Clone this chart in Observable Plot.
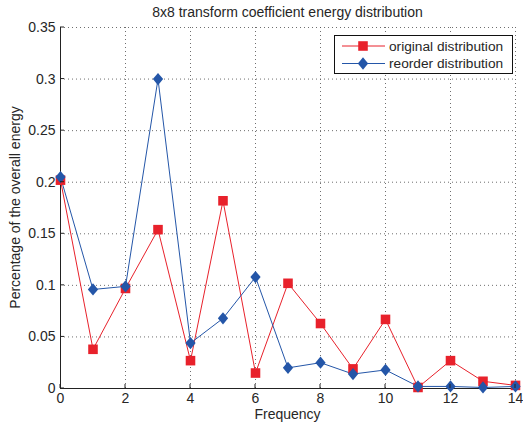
<!DOCTYPE html>
<html>
<head>
<meta charset="utf-8">
<script src="https://cdn.jsdelivr.net/npm/d3@7"></script>
<script src="https://cdn.jsdelivr.net/npm/@observablehq/plot@0.6"></script>
<style>
  body { margin: 0; background: #fff; }
  svg { display: block; font-family: "Liberation Sans", Arial, Helvetica, sans-serif; }
</style>
</head>
<body>
<div id="chart"></div>
<script>
// Frequency index of the 8x8 transform coefficients (zig-zag groups)
const frequency = [0, 1, 2, 3, 4, 5, 6, 7, 8, 9, 10, 11, 12, 13, 14];

// Share of total energy per frequency
const original = [0.202, 0.038, 0.097, 0.154, 0.027, 0.182, 0.015, 0.102, 0.063, 0.019, 0.067, 0.001, 0.027, 0.007, 0.003];
const reorder  = [0.205, 0.096, 0.099, 0.300, 0.044, 0.068, 0.108, 0.020, 0.025, 0.014, 0.018, 0.002, 0.002, 0.001, 0.002];

const xTicks = [0, 2, 4, 6, 8, 10, 12, 14];
const xTickLabels = ["0", "2", "4", "6", "8", "10", "12", "14"];
const yTicks = [0, 0.05, 0.1, 0.15, 0.2, 0.25, 0.3, 0.35];
const yTickLabels = ["0", "0.05", "0.1", "0.15", "0.2", "0.25", "0.3", "0.35"];

const seriesNames = ["original distribution", "reorder distribution"];
const seriesColors = ["#e8212b", "#2456a8"];

const titleText = "8x8 transform coefficient energy distribution";
const xLabel = "Frequency";
const yLabel = "Percentage of the overall energy";

const textColor = "#262626";
const fontSize = 14;

// Slightly tall diamond marker
const diamond = {
  draw(ctx, size) {
    const h = Math.sqrt(size) * 0.64;
    const w = h * 0.84;
    ctx.moveTo(0, -h);
    ctx.lineTo(w, 0);
    ctx.lineTo(0, h);
    ctx.lineTo(-w, 0);
    ctx.closePath();
  }
};
const square = d3.symbolSquare;
const markerR = 5.4;

const originalRows = frequency.map((f, i) => ({f, v: original[i]}));
const reorderRows = frequency.map((f, i) => ({f, v: reorder[i]}));

// Title, axis labels, inward ticks and legend drawn in pixel space
function annotations(index, scales, values, dimensions) {
  const {width, height, marginLeft, marginRight, marginTop, marginBottom} = dimensions;
  const left = marginLeft, right = width - marginRight;
  const top = marginTop, bottom = height - marginBottom;
  const g = d3.create("svg:g")
    .attr("font-family", '"Liberation Sans", Arial, Helvetica, sans-serif')
    .attr("text-anchor", "start")
    .attr("fill", textColor);

  // inward tick marks
  for (const t of xTicks) {
    const x = scales.x(t);
    g.append("line").attr("x1", x).attr("x2", x).attr("y1", bottom).attr("y2", bottom - 4)
      .attr("stroke", "#222").attr("stroke-width", 1);
  }
  for (const t of yTicks) {
    const y = scales.y(t);
    g.append("line").attr("x1", left).attr("x2", left + 4).attr("y1", y).attr("y2", y)
      .attr("stroke", "#222").attr("stroke-width", 1);
  }

  g.append("text")
    .attr("x", (left + right) / 2).attr("y", 17)
    .attr("text-anchor", "middle").attr("font-size", 14)
    .text(titleText);

  g.append("text")
    .attr("x", (left + right) / 2).attr("y", height - 7)
    .attr("text-anchor", "middle").attr("font-size", fontSize)
    .text(xLabel);

  g.append("text")
    .attr("transform", `translate(20,${(top + bottom) / 2}) rotate(-90)`)
    .attr("text-anchor", "middle").attr("font-size", fontSize)
    .text(yLabel);

  // legend
  const lx = 334, ly = 35, lw = 178, lh = 38;
  g.append("rect")
    .attr("x", lx + 0.5).attr("y", ly + 0.5).attr("width", lw).attr("height", lh)
    .attr("fill", "#fff").attr("stroke", "#111").attr("stroke-width", 1);
  const symbols = [square, diamond];
  seriesNames.forEach((name, i) => {
    const y = ly + 11 + i * 17.5;
    g.append("line").attr("x1", lx + 8).attr("x2", lx + 51).attr("y1", y).attr("y2", y)
      .attr("stroke", seriesColors[i]).attr("stroke-width", 1);
    g.append("path")
      .attr("transform", `translate(${lx + 29},${y})`)
      .attr("d", d3.symbol(symbols[i], markerR * markerR * Math.PI)())
      .attr("fill", seriesColors[i]);
    g.append("text")
      .attr("x", lx + 55).attr("y", y).attr("dy", "0.35em")
      .attr("text-anchor", "start")
      .attr("font-size", 13.7)
      .text(name);
  });
  return g.node();
}

const chart = Plot.plot({
  width: 523,
  height: 426,
  marginLeft: 60,
  marginRight: 8,
  marginTop: 27,
  marginBottom: 38,
  style: {fontSize: `${fontSize}px`, fontFamily: '"Liberation Sans", Arial, Helvetica, sans-serif', background: "#fff"},
  x: {domain: [0, 14]},
  y: {domain: [0, 0.35]},
  marks: [
    Plot.gridX(xTicks.slice(1), {stroke: "#555", strokeOpacity: 0.85, strokeDasharray: "1,3"}),
    Plot.gridY(yTicks.slice(1), {stroke: "#555", strokeOpacity: 0.85, strokeDasharray: "1,3"}),
    Plot.axisX(xTicks, {tickSize: 0, tickPadding: 5, fill: textColor, label: null,
      tickFormat: d => xTickLabels[xTicks.indexOf(d)]}),
    Plot.axisY(yTicks, {tickSize: 0, tickPadding: 5, fill: textColor, label: null,
      tickFormat: d => yTickLabels[yTicks.indexOf(d)]}),
    Plot.ruleX([0], {stroke: "#222"}),
    Plot.ruleY([0], {stroke: "#222"}),
    Plot.line(originalRows, {x: "f", y: "v", stroke: seriesColors[0], strokeWidth: 1}),
    Plot.line(reorderRows, {x: "f", y: "v", stroke: seriesColors[1], strokeWidth: 1}),
    Plot.dot(originalRows, {x: "f", y: "v", symbol: square, r: markerR, fill: seriesColors[0], stroke: "none"}),
    Plot.dot(reorderRows, {x: "f", y: "v", symbol: diamond, r: markerR, fill: seriesColors[1], stroke: "none"}),
    annotations
  ]
});

document.getElementById("chart").append(chart);
</script>
</body>
</html>
